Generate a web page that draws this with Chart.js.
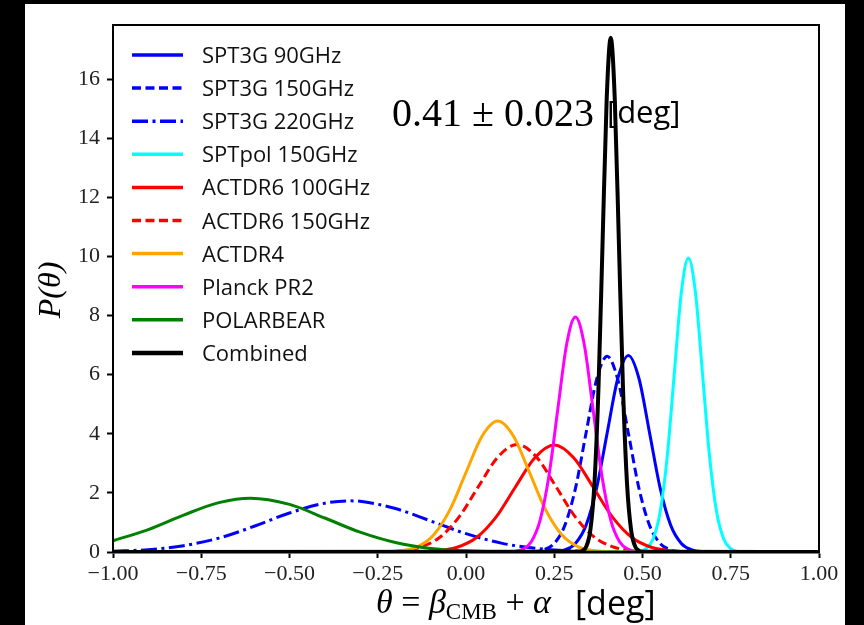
<!DOCTYPE html>
<html><head><meta charset="utf-8">
<script src="https://cdn.jsdelivr.net/npm/chart.js@4.4.1/dist/chart.umd.min.js"></script>
<style>html,body{margin:0;padding:0;background:#000;overflow:hidden}canvas{display:block}</style>
</head><body>
<canvas id="c" width="864" height="625"></canvas>
<script>
// ---------- data ----------
const xTicks = [-1, -0.75, -0.5, -0.25, 0, 0.25, 0.5, 0.75, 1];
const yTicks = [0, 2, 4, 6, 8, 10, 12, 14, 16];

const seriesNames = ['SPT3G 90GHz','SPT3G 150GHz','SPT3G 220GHz','SPTpol 150GHz','ACTDR6 100GHz','ACTDR6 150GHz','ACTDR4','Planck PR2','POLARBEAR','Combined'];

const spt3g90X  = [-1, 0.22, 0.25, 0.28, 0.31, 0.34, 0.37, 0.40, 0.43, 0.46, 0.49, 0.52, 0.55, 0.58, 0.61, 0.64, 0.67, 0.70, 1];
const spt3g90Y  = [0, 0.00, 0.01, 0.07, 0.29, 0.90, 2.16, 4.03, 5.87, 6.65, 5.87, 4.03, 2.16, 0.90, 0.29, 0.07, 0.01, 0.00, 0];

const spt3g150X = [-1, 0.16, 0.19, 0.22, 0.25, 0.28, 0.31, 0.34, 0.37, 0.40, 0.43, 0.46, 0.49, 0.52, 0.55, 0.58, 0.61, 0.64, 1];
const spt3g150Y = [0, 0.00, 0.01, 0.07, 0.29, 0.90, 2.15, 4.02, 5.84, 6.62, 5.84, 4.02, 2.15, 0.90, 0.29, 0.07, 0.01, 0.00, 0];

const spt3g220X = [-1.0, -0.9, -0.8, -0.7, -0.6, -0.5, -0.4, -0.33, -0.3, -0.2, -0.1, 0.0, 0.1, 0.2, 0.3, 0.4, 0.5, 0.6, 1];
const spt3g220Y = [0.025, 0.08, 0.215, 0.47, 0.87, 1.32, 1.65, 1.73, 1.715, 1.47, 1.05, 0.62, 0.30, 0.12, 0.04, 0.011, 0.003, 0, 0];

const sptpolX   = [-1, 0.47, 0.49, 0.51, 0.53, 0.55, 0.57, 0.59, 0.61, 0.63, 0.65, 0.67, 0.69, 0.71, 0.73, 0.75, 0.77, 0.79, 1];
const sptpolY   = [0, 0.00, 0.02, 0.11, 0.44, 1.35, 3.23, 6.03, 8.78, 9.95, 8.78, 6.03, 3.23, 1.35, 0.44, 0.11, 0.02, 0.00, 0];

const act100X   = [-1, -0.19, -0.135, -0.08, -0.025, 0.03, 0.085, 0.14, 0.195, 0.25, 0.305, 0.36, 0.415, 0.47, 0.525, 0.58, 0.635, 0.69, 1];
const act100Y   = [0, 0.00, 0.01, 0.04, 0.16, 0.49, 1.18, 2.20, 3.19, 3.62, 3.19, 2.20, 1.18, 0.49, 0.16, 0.04, 0.01, 0.00, 0];

const act150X   = [-1, -0.295, -0.24, -0.185, -0.13, -0.075, -0.02, 0.035, 0.09, 0.145, 0.20, 0.255, 0.31, 0.365, 0.42, 0.475, 0.53, 0.585, 1];
const act150Y   = [0, 0.00, 0.01, 0.04, 0.16, 0.49, 1.18, 2.21, 3.21, 3.64, 3.21, 2.21, 1.18, 0.49, 0.16, 0.04, 0.01, 0.00, 0];

const actdr4X   = [-1, -0.27, -0.225, -0.18, -0.135, -0.09, -0.045, 0.0, 0.045, 0.09, 0.135, 0.18, 0.225, 0.27, 0.315, 0.36, 0.405, 0.45, 1];
const actdr4Y   = [0, 0.00, 0.01, 0.05, 0.19, 0.60, 1.44, 2.69, 3.91, 4.43, 3.91, 2.69, 1.44, 0.60, 0.19, 0.05, 0.01, 0.00, 0];

const planckX   = [-1, 0.11, 0.135, 0.16, 0.185, 0.21, 0.235, 0.26, 0.285, 0.31, 0.335, 0.36, 0.385, 0.41, 0.435, 0.46, 0.485, 0.51, 1];
const planckY   = [0, 0.00, 0.02, 0.09, 0.35, 1.08, 2.58, 4.82, 7.02, 7.95, 7.02, 4.82, 2.58, 1.08, 0.35, 0.09, 0.02, 0.00, 0];

const polarbearX = [-1.0, -0.9, -0.8, -0.7, -0.61, -0.5, -0.4, -0.3, -0.2, -0.1, 0.0, 0.1, 0.2, 1];
const polarbearY = [0.38, 0.76, 1.25, 1.67, 1.82, 1.61, 1.15, 0.67, 0.32, 0.12, 0.04, 0.01, 0, 0];

const combinedX = [-1, 0.318, 0.3295, 0.341, 0.3525, 0.364, 0.3755, 0.387, 0.3985, 0.41, 0.4215, 0.433, 0.4445, 0.456, 0.4675, 0.479, 0.4905, 0.502, 1];
const combinedY = [0, 0.01, 0.04, 0.19, 0.76, 2.35, 5.63, 10.52, 15.31, 17.4, 15.31, 10.52, 5.63, 2.35, 0.76, 0.19, 0.04, 0.01, 0];

// ---------- styling ----------
const seriesX = [spt3g90X, spt3g150X, spt3g220X, sptpolX, act100X, act150X, actdr4X, planckX, polarbearX, combinedX];
const seriesY = [spt3g90Y, spt3g150Y, spt3g220Y, sptpolY, act100Y, act150Y, actdr4Y, planckY, polarbearY, combinedY];
const colors  = ['#0000ff','#0000ff','#0000ff','#00ffff','#ff0000','#ff0000','#ffa500','#ff00ff','#008000','#000000'];
const DASH = [9, 4.5], DASHDOT = [16, 4.5, 3, 4.5];
const dashes  = [[], DASH, DASHDOT, [], [], DASH, [], [], [], []];
const widths  = [3, 3, 3, 3, 3, 3, 3, 3, 3, 4];

const datasets = seriesNames.map((name, i) => ({
  label: name,
  data: seriesX[i].map((x, k) => ({x: x, y: seriesY[i][k]})),
  borderColor: colors[i],
  borderWidth: widths[i],
  borderDash: dashes[i],
  borderCapStyle: 'butt',
  borderJoinStyle: 'round',
  pointRadius: 0,
  fill: false,
  cubicInterpolationMode: 'monotone',
  order: 20 - i
}));

const fmtX = v => (v < 0 ? '\u2212' : '') + Math.abs(v).toFixed(2);

const decor = {
  id: 'decor',
  beforeDraw(chart) {
    const ctx = chart.ctx;
    ctx.save();
    ctx.fillStyle = '#000';
    ctx.fillRect(0, 0, chart.width, chart.height);
    ctx.fillStyle = '#fff';
    ctx.fillRect(25, 4, 820, 621);
    ctx.restore();
  },
  afterDraw(chart) {
    const ctx = chart.ctx, a = chart.chartArea;
    ctx.save();
    // frame
    ctx.strokeStyle = '#000';
    ctx.lineWidth = 2;
    ctx.strokeRect(a.left, a.top, a.right - a.left, a.bottom - a.top);
    // legend
    ctx.font = '22px "Open Sans"';
    ctx.textBaseline = 'alphabetic';
    ctx.textAlign = 'left';
    seriesNames.forEach((name, i) => {
      const y = 55 + 33.1 * i;
      ctx.beginPath();
      ctx.strokeStyle = colors[i];
      ctx.lineWidth = widths[i] + 0.5;
      ctx.setLineDash(dashes[i]);
      ctx.lineCap = 'butt';
      ctx.moveTo(132, y);
      ctx.lineTo(183, y);
      ctx.stroke();
      ctx.setLineDash([]);
      ctx.fillStyle = '#111';
      ctx.fillText(name, 202, y + 8);
    });
    // annotation
    ctx.fillStyle = '#000';
    ctx.font = '40px "Liberation Serif"';
    ctx.fillText('0.41 \u00b1 0.023', 392, 126);
    ctx.font = '31px "Open Sans"';
    ctx.fillText('[deg]', 607, 123);
    // x title
    let x = 376; const yb = 613;
    const put = (t, f, dy) => { ctx.font = f; ctx.fillText(t, x, yb + (dy || 0)); x += ctx.measureText(t).width; };
    put('\u03b8', 'italic 34px "Liberation Serif"');
    put(' = ', '34px "Liberation Serif"');
    put('\u03b2', 'italic 34px "Liberation Serif"');
    put('CMB', '23px "Liberation Serif"', 6);
    put(' + ', '34px "Liberation Serif"');
    put('\u03b1', 'italic 34px "Liberation Serif"');
    ctx.font = '34px "Open Sans"';
    ctx.fillText('[deg]', 575, 615);
    // y title
    ctx.translate(60, 290);
    ctx.rotate(-Math.PI / 2);
    ctx.textAlign = 'center';
    ctx.font = 'italic 32px "Liberation Serif"';
    ctx.fillText('P(\u03b8)', 0, 0);
    ctx.restore();
  }
};

new Chart(document.getElementById('c'), {
  type: 'line',
  data: { datasets: datasets },
  options: {
    responsive: false,
    devicePixelRatio: 1,
    animation: false,
    layout: { padding: { left: 0, top: 25, right: 45, bottom: 0 } },
    plugins: { legend: { display: false }, tooltip: { enabled: false } },
    scales: {
      x: {
        type: 'linear', min: -1, max: 1,
        afterBuildTicks: s => { s.ticks = xTicks.map(v => ({ value: v })); },
        afterFit: s => { s.height = 73; },
        ticks: { callback: v => fmtX(v), font: { family: 'Liberation Serif', size: 22 }, color: '#222', padding: 3, maxRotation: 0, autoSkip: false },
        grid: { display: true, drawOnChartArea: false, drawTicks: true, tickLength: 6, tickWidth: 2, tickColor: '#000' },
        border: { display: true, color: '#000', width: 2.5 }
      },
      y: {
        type: 'linear', min: 0, max: 17.83,
        afterBuildTicks: s => { s.ticks = yTicks.map(v => ({ value: v })); },
        afterFit: s => { s.width = 113; },
        ticks: { font: { family: 'Liberation Serif', size: 22 }, color: '#222', padding: 7 },
        grid: { display: true, drawOnChartArea: false, drawTicks: true, tickLength: 6, tickWidth: 2, tickColor: '#000' },
        border: { display: true, color: '#000', width: 2 }
      }
    }
  },
  plugins: [decor]
});
</script>
</body></html>
